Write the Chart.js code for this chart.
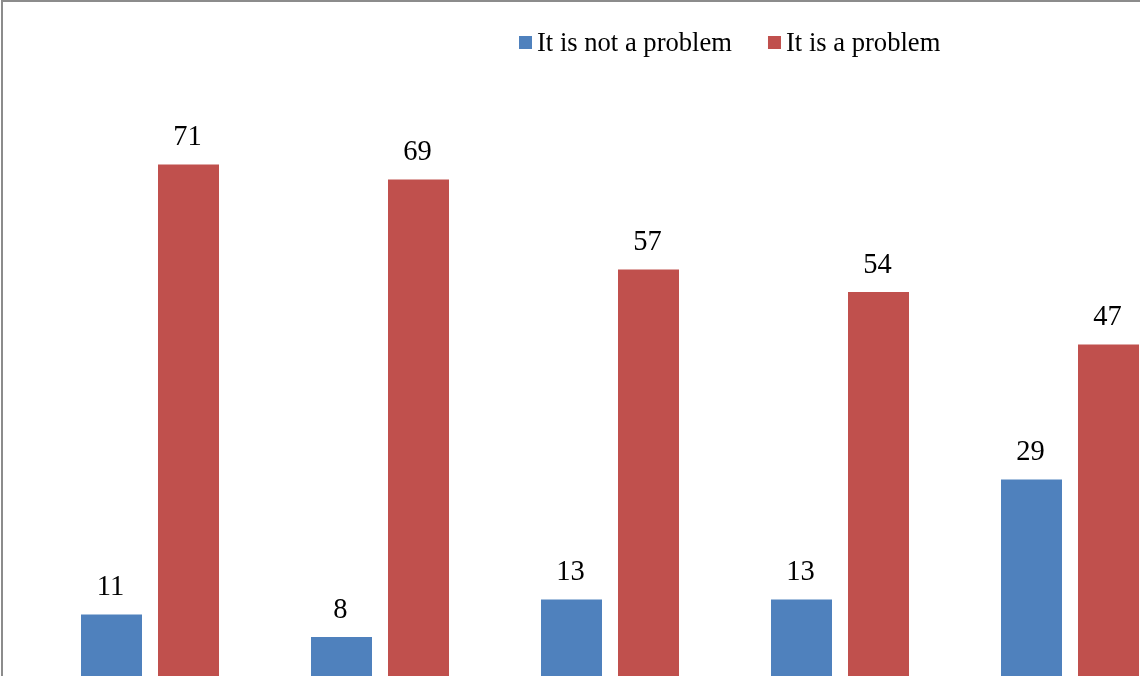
<!DOCTYPE html>
<html>
<head>
<meta charset="utf-8">
<script src="https://cdn.jsdelivr.net/npm/chart.js@4"></script>
<style>
  html, body { margin: 0; padding: 0; overflow: hidden; background: #fff; width: 1140px; height: 676px; }
  #wrap { position: relative; width: 1200px; height: 700px; }
  #wrap canvas { position: absolute; left: 0; top: 0; }
  #frame { position: absolute; left: 1px; top: 0; width: 1300px; height: 800px;
           border-left: 2px solid #8c8c8c; border-top: 2px solid #8c8c8c; pointer-events: none; }
</style>
</head>
<body>
<div id="wrap">
  <canvas id="chart" width="1200" height="700"></canvas>
  <div id="frame"></div>
</div>
<script>
// Survey answers, in percent
const categories = ['1', '2', '3', '4', '5'];
const seriesNames = ['It is not a problem', 'It is a problem'];
const notProblem = [11, 8, 13, 13, 29];
const isProblem = [71, 69, 57, 54, 47];
const seriesColors = ['#4F81BD', '#C0504D'];

const SERIF = '"Liberation Serif", "Times New Roman", serif';

// Value labels above each bar, positioned from the bar elements
const valueLabels = {
  id: 'valueLabels',
  afterDatasetsDraw(chart) {
    const ctx = chart.ctx;
    ctx.save();
    ctx.font = '28.5px ' + SERIF;
    ctx.fillStyle = '#000';
    ctx.textAlign = 'center';
    ctx.textBaseline = 'alphabetic';
    chart.data.datasets.forEach((ds, i) => {
      chart.getDatasetMeta(i).data.forEach((bar, j) => {
        ctx.fillText(String(ds.data[j]), bar.x - 1, bar.y - 19.5);
      });
    });
    ctx.restore();
  }
};

// Compact legend row: square swatch followed by the series name
const legendRow = {
  id: 'legendRow',
  afterDraw(chart) {
    const ctx = chart.ctx;
    ctx.save();
    ctx.font = '26.6px ' + SERIF;
    ctx.textBaseline = 'alphabetic';
    let x = 519;
    chart.data.datasets.forEach(ds => {
      ctx.fillStyle = ds.backgroundColor;
      ctx.fillRect(x, 36, 13, 13);
      ctx.fillStyle = '#000';
      ctx.fillText(ds.label, x + 18, 51);
      x += 18 + ctx.measureText(ds.label).width + 36;
    });
    ctx.restore();
  }
};

new Chart(document.getElementById('chart'), {
  type: 'bar',
  data: {
    labels: categories,
    datasets: [
      { label: seriesNames[0], data: notProblem, backgroundColor: seriesColors[0] },
      { label: seriesNames[1], data: isProblem, backgroundColor: seriesColors[1] }
    ]
  },
  options: {
    responsive: false,
    animation: false,
    devicePixelRatio: 1,
    categoryPercentage: 0.6696,
    barPercentage: 0.7922,
    layout: { padding: { left: 35, right: 15, top: 97, bottom: 3 } },
    plugins: { legend: { display: false }, tooltip: { enabled: false } },
    scales: {
      x: { display: false },
      y: { display: false, min: 0, max: 80 }
    }
  },
  plugins: [valueLabels, legendRow]
});
</script>
</body>
</html>
